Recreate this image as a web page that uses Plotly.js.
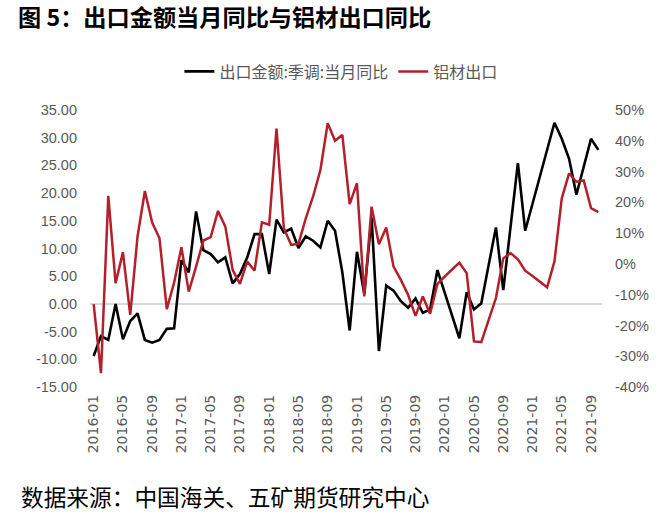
<!DOCTYPE html>
<html>
<head>
<meta charset="utf-8">
<script src="https://cdn.plot.ly/plotly-3.0.1.min.js"></script>
<style>
html,body{margin:0;padding:0;background:#fff;}
#chart{width:661px;height:521px;}
</style>
</head>
<body>
<div id="chart"></div>
<script>
// Months 2016-01 .. 2021-10
const months = [
"2016-01","2016-02","2016-03","2016-04","2016-05","2016-06","2016-07","2016-08","2016-09","2016-10","2016-11","2016-12",
"2017-01","2017-02","2017-03","2017-04","2017-05","2017-06","2017-07","2017-08","2017-09","2017-10","2017-11","2017-12",
"2018-01","2018-02","2018-03","2018-04","2018-05","2018-06","2018-07","2018-08","2018-09","2018-10","2018-11","2018-12",
"2019-01","2019-02","2019-03","2019-04","2019-05","2019-06","2019-07","2019-08","2019-09","2019-10","2019-11","2019-12",
"2020-01","2020-02","2020-03","2020-04","2020-05","2020-06","2020-07","2020-08","2020-09","2020-10","2020-11","2020-12",
"2021-01","2021-02","2021-03","2021-04","2021-05","2021-06","2021-07","2021-08","2021-09","2021-10"
];

// 出口金额:季调:当月同比 (left axis, %)
const exportYoY = [
-9.4,-5.8,-6.5,0.0,-6.4,-3.1,-1.7,-6.5,-7.0,-6.5,-4.5,-4.4,
7.9,5.7,16.7,9.7,9.0,7.5,8.4,3.7,5.4,8.4,12.6,12.6,
5.4,15.2,12.9,13.6,10.1,12.2,11.4,10.2,15.0,13.2,5.7,-4.8,
9.4,1.8,15.6,-8.5,3.3,2.4,0.5,-0.7,1.0,-1.6,-1.0,6.1,
null,null,-6.2,2.1,-1.0,0.1,7.0,13.8,2.5,14.0,25.4,13.2,
null,null,28.0,32.7,29.8,26.2,19.7,24.8,29.8,27.8
];

// 铝材出口 同比 (right axis, %)
const aluminumYoY = [
-13.1,-35.5,22.1,-6.3,3.8,-16.6,8.9,23.7,13.4,8.3,-14.7,-6.1,
5.4,-9.0,-0.9,7.6,8.7,17.2,12.1,-1.9,-6.5,0.8,-2.2,13.5,
12.7,44.0,11.6,6.2,6.5,14.8,21.9,30.5,45.7,40.0,41.9,19.4,
26.2,-10.6,18.6,6.4,11.8,-0.9,-5.2,-10.1,-16.9,-10.6,-16.2,-6.5,
-4.1,-1.9,0.4,-3.0,-25.2,-25.4,-18.2,-11.1,1.8,3.5,1.5,-2.2,
-3.9,-5.7,-7.6,0.8,21.3,29.4,26.7,27.1,18.1,16.8
];

const leftTicks = [-15,-10,-5,0,5,10,15,20,25,30,35];
const rightTicks = [-40,-30,-20,-10,0,10,20,30,40,50];
const xTickLabels = months.filter((m,i)=>i%4===0);

const seriesNames = ["出口金额:季调:当月同比","铝材出口"];
const chartTitle = "图 5：出口金额当月同比与铝材出口同比";
const sourceNote = "数据来源：中国海关、五矿期货研究中心";

const traces = [
  {
    x: months, y: aluminumYoY, name: seriesNames[1], type: 'scatter', mode: 'lines',
    yaxis: 'y2', line: {color: '#B3202C', width: 2.5}, legendrank: 2, hoverinfo: 'skip'
  },
  {
    x: months, y: exportYoY, name: seriesNames[0], type: 'scatter', mode: 'lines',
    yaxis: 'y', connectgaps: true, line: {color: '#000000', width: 2.6}, legendrank: 1, hoverinfo: 'skip'
  }
];

const layout = {
  width: 661, height: 521,
  paper_bgcolor: '#ffffff', plot_bgcolor: '#ffffff',
  margin: {l: 90, r: 59, t: 110, b: 134},
  showlegend: true,
  title: {
    text: chartTitle,
    font: {family: 'Noto Sans CJK SC', size: 23.2, color: '#000000', weight: 'bold'},
    xref: 'container', yref: 'container', x: 18/661, xanchor: 'left', y: 1 - 18/521, yanchor: 'middle'
  },
  legend: {
    orientation: 'h', xref: 'paper', yref: 'paper',
    x: 0.49, xanchor: 'center', y: (387-71.5)/277, yanchor: 'middle',
    font: {family: 'Noto Sans CJK SC', size: 16, color: '#595959'},
    itemwidth: 30, traceorder: 'normal', bgcolor: 'rgba(0,0,0,0)'
  },
  xaxis: {
    type: 'category', range: [-0.5, 69.5],
    tickmode: 'array', tickvals: xTickLabels, ticktext: xTickLabels,
    tickangle: -90, showgrid: false, zeroline: false, showline: false, ticks: '',
    tickfont: {family: 'DejaVu Sans', size: 14, color: '#595959'},
    ticklabelstandoff: 4
  },
  yaxis: {
    range: [-15, 35], tickmode: 'array', tickvals: leftTicks,
    ticktext: leftTicks.map(v => v.toFixed(2)),
    showgrid: false, zeroline: true, zerolinecolor: '#D9D9D9', zerolinewidth: 1.5,
    showline: false, ticks: '',
    tickfont: {family: 'Liberation Sans', size: 14.5, color: '#595959'},
    ticklabelstandoff: 12
  },
  yaxis2: {
    range: [-40, 50], overlaying: 'y', side: 'right', tickmode: 'array', tickvals: rightTicks,
    ticktext: rightTicks.map(v => v + '%'),
    showgrid: false, zeroline: false, showline: false, ticks: '',
    tickfont: {family: 'Liberation Sans', size: 14.5, color: '#595959'},
    ticklabelstandoff: 12
  },
  annotations: [
    {
      text: sourceNote, xref: 'paper', yref: 'paper',
      x: (19-90)/512, xanchor: 'left', y: (387-497)/277, yanchor: 'middle',
      showarrow: false, font: {family: 'Noto Sans CJK SC', size: 22.7, color: '#000000'}
    }
  ]
};

Plotly.newPlot('chart', traces, layout, {displayModeBar: false, staticPlot: true});
</script>
</body>
</html>
